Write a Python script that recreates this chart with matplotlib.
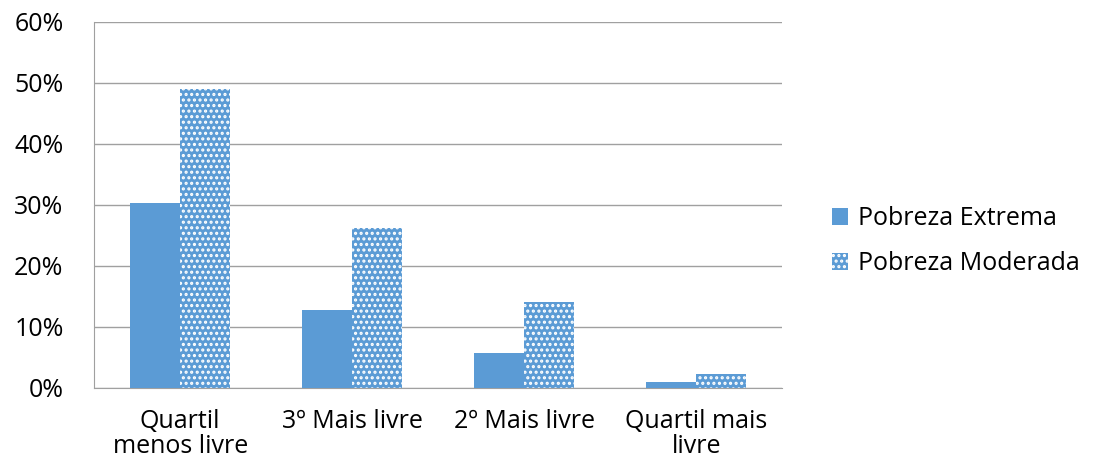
import matplotlib.pyplot as plt
import numpy as np

categories = ["Quartil\nmenos livre", "3º Mais livre", "2º Mais livre", "Quartil mais\nlivre"]
extrema = [0.303, 0.128, 0.057, 0.010]
moderada = [0.490, 0.262, 0.141, 0.023]
yticks = [0, 0.1, 0.2, 0.3, 0.4, 0.5, 0.6]

plt.rcParams['font.family'] = ['Open Sans', 'DejaVu Sans']
plt.rcParams['hatch.linewidth'] = 1.5

blue = "#5B9BD5"
fig = plt.figure(figsize=(11.08, 4.65), dpi=100)
ax = fig.add_axes([0.085, 0.166, 0.621, 0.787])

x = np.arange(len(categories))
w = 0.29
ax.bar(x - w / 2, extrema, w, color=blue, label="Pobreza Extrema", zorder=3)
ax.bar(x + w / 2, moderada, w, facecolor=blue, edgecolor="white", hatch="...",
       linewidth=0, label="Pobreza Moderada", zorder=3)

ax.set_xlim(-0.5, len(categories) - 0.5)
ax.set_ylim(0, 0.6)
ax.set_yticks(yticks)
ax.set_yticklabels([f"{int(round(t * 100))}%" for t in yticks], fontsize=18)
ax.set_xticks(x)
ax.set_xticklabels(categories, fontsize=18, linespacing=1.0)
ax.tick_params(axis="y", length=0, pad=22)
ax.tick_params(axis="x", length=0, pad=15)
ax.yaxis.grid(True, color="#A0A0A0", linewidth=1, zorder=0)
for s in ["top", "right"]:
    ax.spines[s].set_visible(False)
for s in ["left", "bottom"]:
    ax.spines[s].set_color("#A0A0A0")

ax.legend(loc="center left", bbox_to_anchor=(1.072, 0.40), frameon=False,
          fontsize=18, handlelength=0.65, handleheight=0.65, labelspacing=0.8,
          handletextpad=0.4, borderpad=0, borderaxespad=0)

fig.savefig("out.png", dpi=100)
